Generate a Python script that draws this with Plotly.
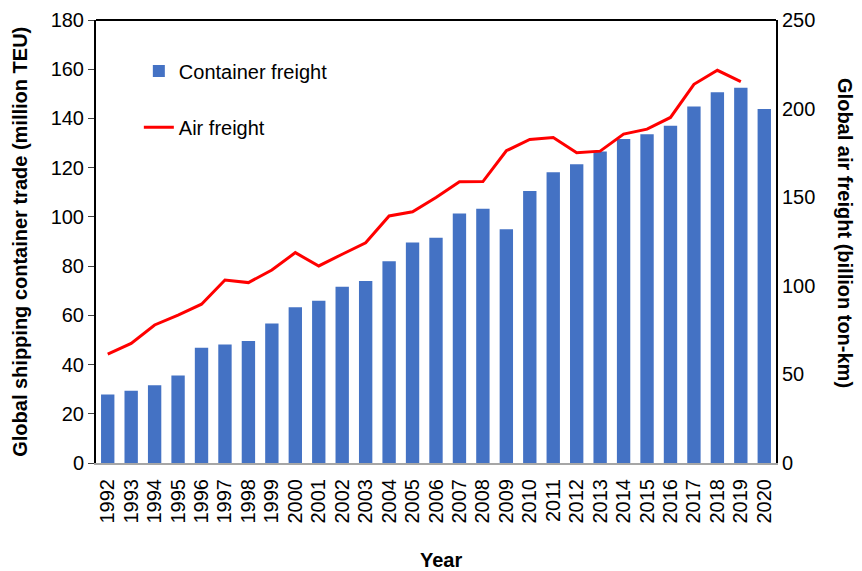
import plotly.graph_objects as go

years = [str(y) for y in range(1992, 2021)]

# global shipping container trade (million TEU)
container = [27.8, 29.4, 31.6, 35.6, 46.8, 48.1, 49.6, 56.7, 63.3, 65.9,
             71.6, 74.0, 82.0, 89.6, 91.5, 101.4, 103.3, 95.0, 110.5, 118.1,
             121.4, 126.6, 131.6, 133.6, 137.0, 144.9, 150.6, 152.5, 143.8]

# global air freight (billion ton-km), no value for 2020
air = [61.5, 67.5, 77.9, 83.5, 89.6, 103.3, 101.8, 108.9, 118.7, 111.2,
       117.8, 124.3, 139.4, 141.8, 149.8, 158.7, 158.8, 176.2, 182.6, 183.7,
       175.1, 176.0, 185.6, 188.4, 195.0, 213.7, 221.6, 215.2, None]

FONT = 'Liberation Sans, Arial, sans-serif'

fig = go.Figure()
fig.add_trace(go.Bar(x=years, y=container, name='Container freight',
                     marker=dict(color='#4472C4', line=dict(width=0)),
                     showlegend=True, legend='legend'))
fig.add_trace(go.Scatter(x=years, y=air, name='Air freight', mode='lines',
                         line=dict(color='#FF0000', width=3),
                         yaxis='y2', showlegend=True, legend='legend2'))

# page body adds 8px offset, so the figure is a little smaller than the window
fig.update_layout(
    width=854, height=563,
    margin=dict(l=88, r=86, t=12, b=108),
    showlegend=True,
    plot_bgcolor='white', paper_bgcolor='white',
    font=dict(family=FONT, color='black', size=20),
    bargap=0.43,
    xaxis=dict(tickangle=-90, showline=True, linecolor='#A6A6A6', linewidth=2,
               ticks='', tickfont=dict(size=20), ticklabelstandoff=6,
               tickmode='array', tickvals=years, ticktext=years,
               showgrid=False, automargin=False),
    yaxis=dict(range=[0, 180], dtick=20, showline=True, linecolor='black', linewidth=2,
               ticks='outside', ticklen=6, tickcolor='#404040', showgrid=False,
               zeroline=False, tickfont=dict(size=20), automargin=False),
    yaxis2=dict(range=[0, 250], dtick=50, overlaying='y', side='right',
                showline=True, linecolor='black', linewidth=2, ticks='',
                showgrid=False, zeroline=False, tickfont=dict(size=20), automargin=False),
    legend=dict(x=0.063, y=0.885, xanchor='left', yanchor='middle',
                bgcolor='rgba(0,0,0,0)', font=dict(size=20)),
    legend2=dict(x=0.063, y=0.758, xanchor='left', yanchor='middle',
                 bgcolor='rgba(0,0,0,0)', font=dict(size=20)),
    shapes=[dict(type='line', xref='paper', yref='paper', x0=0, x1=1, y0=1, y1=1,
                 line=dict(color='black', width=2))],
    annotations=[
        dict(text='<b>Global shipping container trade (million TEU)</b>', textangle=-90,
             xref='paper', yref='paper', x=-0.112, y=0.499, showarrow=False,
             xanchor='center', yanchor='middle', font=dict(size=20)),
        dict(text='<b>Global air freight (billion ton-km)</b>', textangle=90,
             xref='paper', yref='paper', x=1.1015, y=0.519, showarrow=False,
             xanchor='center', yanchor='middle', font=dict(size=20)),
        dict(text='<b>Year</b>', xref='paper', yref='paper', x=0.507, y=-0.219,
             showarrow=False, xanchor='center', yanchor='middle', font=dict(size=20)),
    ],
)

fig.write_html('out.html')
